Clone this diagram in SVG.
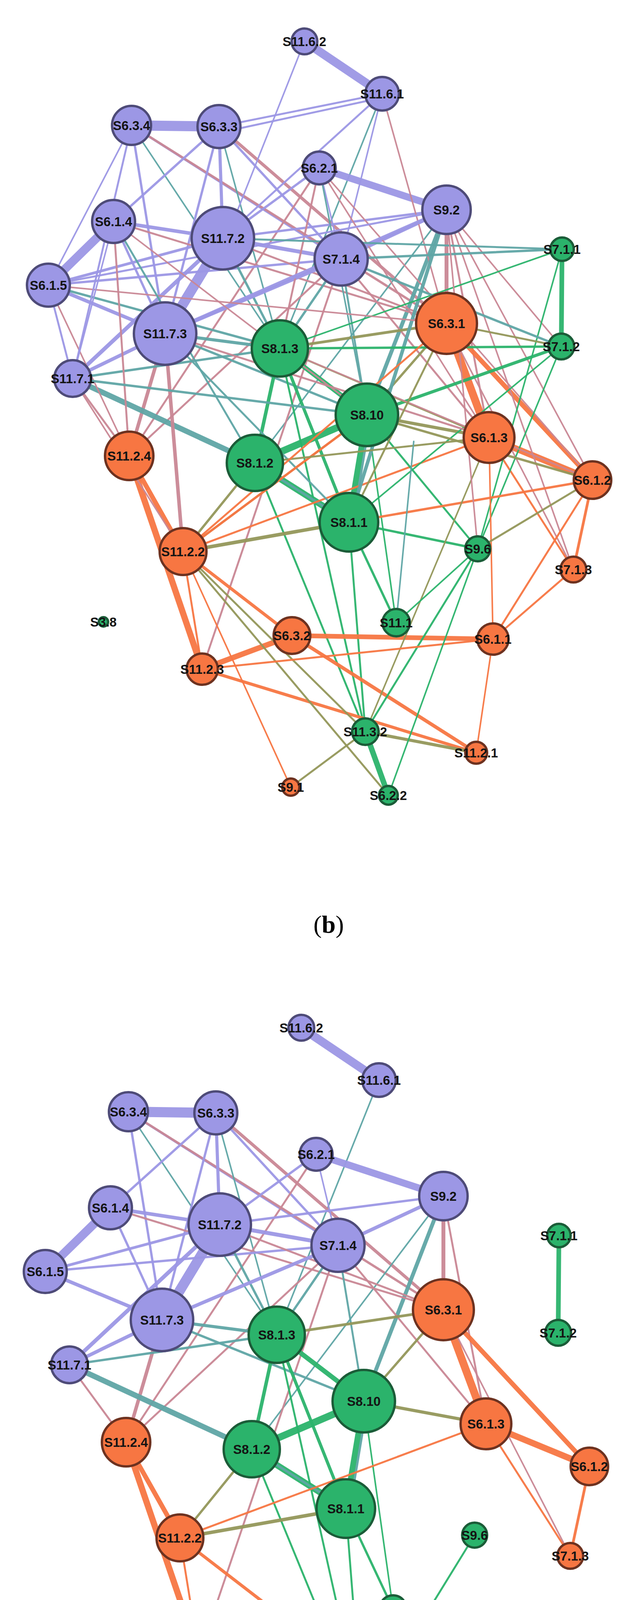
<svg xmlns="http://www.w3.org/2000/svg" xmlns:xlink="http://www.w3.org/1999/xlink" width="1591" height="4980" viewBox="0 0 1591 4980">
<style>
.p{fill:#9c97e5;stroke:#4e4b78;stroke-width:6}
.g{fill:#2bb36b;stroke:#1b5c38;stroke-width:6}
.o{fill:#f77642;stroke:#6d3220;stroke-width:6}
.t{font-family:"Liberation Sans",Arial,sans-serif;font-weight:bold;font-size:33px;fill:#141414;text-anchor:middle;dominant-baseline:central}
.cap{font-family:"Liberation Serif","Times New Roman",serif;font-size:64px;fill:#000;text-anchor:middle}
line{stroke-linecap:round;stroke-opacity:0.95}
.ep{stroke:#9c97e5}.ek{stroke:#c98795}.et{stroke:#5fa5a5}.eo{stroke:#94975a}.eg{stroke:#2bb36b}.er{stroke:#f77642}
</style>
<rect width="1591" height="4980" fill="#fff"/>
<!-- ================= PANEL B ================= -->
<g id="edges-b" stroke-width="4">
<!-- shared with c -->
<line class="ep" x1="780" y1="106" x2="979" y2="240" stroke-width="22"/>
<line class="et" x1="979" y1="240" x2="717" y2="892"/>
<line class="ep" x1="337" y1="321" x2="561" y2="324" stroke-width="26"/>
<line class="ep" x1="337" y1="321" x2="423" y2="854" stroke-width="6"/>
<line class="ep" x1="337" y1="321" x2="874" y2="663" stroke-width="6"/>
<line class="et" x1="337" y1="321" x2="717" y2="892"/>
<line class="ek" x1="337" y1="321" x2="1144" y2="828" stroke-width="6"/>
<line class="ep" x1="561" y1="324" x2="291" y2="567" stroke-width="6"/>
<line class="ep" x1="561" y1="324" x2="571" y2="610" stroke-width="8"/>
<line class="ep" x1="561" y1="324" x2="423" y2="854" stroke-width="6"/>
<line class="et" x1="561" y1="324" x2="717" y2="892"/>
<line class="ep" x1="561" y1="324" x2="874" y2="663" stroke-width="6"/>
<line class="ek" x1="561" y1="324" x2="1144" y2="828" stroke-width="8"/>
<line class="ep" x1="818" y1="430" x2="1144" y2="537" stroke-width="18"/>
<line class="ep" x1="818" y1="430" x2="571" y2="610" stroke-width="6"/>
<line class="ek" x1="818" y1="430" x2="331" y2="1167" stroke-width="5"/>
<line class="ep" x1="818" y1="430" x2="874" y2="663"/>
<line class="ep" x1="1144" y1="537" x2="571" y2="610" stroke-width="6"/>
<line class="ep" x1="1144" y1="537" x2="874" y2="663" stroke-width="9"/>
<line class="et" x1="1144" y1="537" x2="940" y2="1062" stroke-width="10"/>
<line class="ek" x1="1144" y1="537" x2="1144" y2="828" stroke-width="10"/>
<line class="ek" x1="1144" y1="537" x2="1253" y2="1120" stroke-width="5"/>
<line class="et" x1="1144" y1="537" x2="653" y2="1185"/>
<line class="ep" x1="291" y1="567" x2="124" y2="730" stroke-width="22"/>
<line class="ep" x1="291" y1="567" x2="571" y2="610" stroke-width="9"/>
<line class="ep" x1="291" y1="567" x2="423" y2="854" stroke-width="6"/>
<line class="ek" x1="291" y1="567" x2="1144" y2="828" stroke-width="5"/>
<line class="ep" x1="124" y1="730" x2="571" y2="610" stroke-width="7"/>
<line class="ep" x1="124" y1="730" x2="874" y2="663" stroke-width="6"/>
<line class="ep" x1="124" y1="730" x2="423" y2="854" stroke-width="9"/>
<line class="ep" x1="571" y1="610" x2="874" y2="663" stroke-width="10"/>
<line class="ep" x1="571" y1="610" x2="423" y2="854" stroke-width="26"/>
<line class="et" x1="571" y1="610" x2="717" y2="892" stroke-width="6"/>
<line class="ek" x1="571" y1="610" x2="1144" y2="828" stroke-width="5"/>
<line class="ep" x1="571" y1="610" x2="186" y2="969" stroke-width="10"/>
<line class="ep" x1="874" y1="663" x2="423" y2="854" stroke-width="9"/>
<line class="et" x1="874" y1="663" x2="717" y2="892" stroke-width="6"/>
<line class="et" x1="874" y1="663" x2="940" y2="1062" stroke-width="5"/>
<line class="ek" x1="874" y1="663" x2="1253" y2="1120" stroke-width="5"/>
<line class="ek" x1="874" y1="663" x2="518" y2="1713" stroke-width="5"/>
<line class="ek" x1="874" y1="663" x2="331" y2="1167" stroke-width="5"/>
<line class="et" x1="423" y1="854" x2="717" y2="892" stroke-width="8"/>
<line class="ep" x1="423" y1="854" x2="186" y2="969" stroke-width="9"/>
<line class="ek" x1="423" y1="854" x2="331" y2="1167" stroke-width="9"/>
<line class="et" x1="423" y1="854" x2="940" y2="1062" stroke-width="6"/>
<line class="et" x1="186" y1="969" x2="717" y2="892" stroke-width="6"/>
<line class="et" x1="186" y1="969" x2="653" y2="1185" stroke-width="14"/>
<line class="ek" x1="186" y1="969" x2="331" y2="1167" stroke-width="5"/>
<line class="eo" x1="717" y1="892" x2="1144" y2="828" stroke-width="7"/>
<line class="eg" x1="717" y1="892" x2="940" y2="1062" stroke-width="12"/>
<line class="eg" x1="717" y1="892" x2="894" y2="1337" stroke-width="8"/>
<line class="eg" x1="717" y1="892" x2="653" y2="1185" stroke-width="9"/>
<line class="eg" x1="717" y1="892" x2="936" y2="1873" stroke-width="5"/>
<line class="eo" x1="1144" y1="828" x2="940" y2="1062" stroke-width="6"/>
<line class="er" x1="1144" y1="828" x2="1253" y2="1120" stroke-width="20"/>
<line class="er" x1="1144" y1="828" x2="1518" y2="1229" stroke-width="12"/>
<line class="ek" x1="1144" y1="828" x2="1469" y2="1458" stroke-width="4"/>
<line class="eg" x1="1440" y1="638" x2="1438" y2="887" stroke-width="12"/>
<line class="eg" x1="940" y1="1062" x2="653" y2="1185" stroke-width="18"/>
<line class="eg" x1="940" y1="1062" x2="894" y2="1337" stroke-width="15"/>
<line class="et" x1="950" y1="1062" x2="904" y2="1337" stroke-width="6"/>
<line class="eo" x1="940" y1="1062" x2="1253" y2="1120" stroke-width="8"/>
<line class="eg" x1="940" y1="1062" x2="1015" y2="1594"/>
<line class="eg" x1="653" y1="1185" x2="894" y2="1337" stroke-width="16"/>
<line class="et" x1="653" y1="1185" x2="894" y2="1337" stroke-width="6"/>
<line class="eo" x1="653" y1="1185" x2="469" y2="1412" stroke-width="6"/>
<line class="eg" x1="653" y1="1185" x2="936" y2="1873" stroke-width="5"/>
<line class="eo" x1="894" y1="1337" x2="469" y2="1412" stroke-width="9"/>
<line class="eg" x1="894" y1="1337" x2="1015" y2="1594" stroke-width="6"/>
<line class="eg" x1="894" y1="1337" x2="936" y2="1873" stroke-width="5"/>
<line class="er" x1="469" y1="1412" x2="1253" y2="1120" stroke-width="5"/>
<line class="er" x1="1253" y1="1120" x2="1518" y2="1229" stroke-width="16"/>
<line class="er" x1="1253" y1="1120" x2="1469" y2="1458" stroke-width="5"/>
<line class="er" x1="1518" y1="1229" x2="1469" y2="1458" stroke-width="7"/>
<line class="er" x1="331" y1="1167" x2="469" y2="1412" stroke-width="12"/>
<line class="er" x1="331" y1="1167" x2="518" y2="1713" stroke-width="16"/>
<line class="er" x1="469" y1="1412" x2="748" y2="1627" stroke-width="8"/>
<line class="er" x1="469" y1="1412" x2="518" y2="1713" stroke-width="5"/>
<line class="er" x1="748" y1="1627" x2="518" y2="1713" stroke-width="14"/>
<line class="er" x1="748" y1="1627" x2="1263" y2="1636" stroke-width="12"/>
<line class="er" x1="748" y1="1627" x2="1220" y2="1927" stroke-width="9"/>
<line class="er" x1="518" y1="1713" x2="1220" y2="1927" stroke-width="8"/>
<line class="eg" x1="1224" y1="1405" x2="936" y2="1873" stroke-width="5"/>
<line class="eo" x1="936" y1="1873" x2="1220" y2="1927" stroke-width="8"/>
<line class="eg" x1="936" y1="1873" x2="995" y2="2036" stroke-width="14"/>
<!-- extra in b -->
<line class="ep" x1="780" y1="106" x2="600" y2="560"/>
<line class="ep" x1="979" y1="240" x2="561" y2="324" stroke-width="5"/>
<line class="ep" x1="979" y1="250" x2="561" y2="340" stroke-width="5"/>
<line class="ep" x1="979" y1="240" x2="571" y2="610" stroke-width="5"/>
<line class="ep" x1="979" y1="240" x2="874" y2="663"/>
<line class="ek" x1="979" y1="240" x2="1144" y2="828"/>
<line class="ek" x1="818" y1="430" x2="717" y2="892" stroke-width="5"/>
<line class="et" x1="818" y1="430" x2="940" y2="1062"/>
<line class="ek" x1="818" y1="430" x2="1253" y2="1120"/>
<line class="ek" x1="818" y1="430" x2="1518" y2="1229"/>
<line class="et" x1="1144" y1="537" x2="894" y2="1337" stroke-width="9"/>
<line class="ek" x1="1144" y1="537" x2="1438" y2="887"/>
<line class="ek" x1="1144" y1="537" x2="1469" y2="1458"/>
<line class="ek" x1="1144" y1="537" x2="1518" y2="1229"/>
<line class="ep" x1="1144" y1="537" x2="423" y2="854" stroke-width="10"/>
<line class="ep" x1="1144" y1="537" x2="124" y2="730" stroke-width="5"/>
<line class="et" x1="1440" y1="638" x2="874" y2="663" stroke-width="6"/>
<line class="et" x1="1440" y1="638" x2="571" y2="610" stroke-width="5"/>
<line class="eg" x1="1440" y1="638" x2="717" y2="892"/>
<line class="eg" x1="1440" y1="638" x2="1224" y2="1405"/>
<line class="et" x1="1438" y1="887" x2="874" y2="663" stroke-width="6"/>
<line class="eg" x1="1438" y1="887" x2="717" y2="892" stroke-width="6"/>
<line class="eg" x1="1438" y1="887" x2="940" y2="1062" stroke-width="8"/>
<line class="eg" x1="1438" y1="887" x2="894" y2="1337"/>
<line class="eg" x1="1438" y1="887" x2="1224" y2="1405"/>
<line class="eo" x1="1438" y1="887" x2="1144" y2="828" stroke-width="5"/>
<line class="et" x1="124" y1="730" x2="717" y2="892" stroke-width="6"/>
<line class="ek" x1="124" y1="730" x2="1144" y2="828"/>
<line class="ek" x1="124" y1="730" x2="331" y2="1167"/>
<line class="ep" x1="124" y1="730" x2="186" y2="969" stroke-width="5"/>
<line class="et" x1="291" y1="567" x2="653" y2="1185" stroke-width="5"/>
<line class="ek" x1="291" y1="567" x2="331" y2="1167" stroke-width="5"/>
<line class="ep" x1="291" y1="567" x2="186" y2="969"/>
<line class="ek" x1="291" y1="567" x2="940" y2="1062"/>
<line class="ep" x1="337" y1="321" x2="186" y2="969" stroke-width="5"/>
<line class="ep" x1="337" y1="321" x2="124" y2="730"/>
<line class="et" x1="423" y1="854" x2="894" y2="1337" stroke-width="5"/>
<line class="ek" x1="423" y1="854" x2="469" y2="1412" stroke-width="9"/>
<line class="ek" x1="423" y1="854" x2="1253" y2="1120" stroke-width="5"/>
<line class="et" x1="186" y1="969" x2="940" y2="1062" stroke-width="6"/>
<line class="ek" x1="186" y1="969" x2="469" y2="1412"/>
<line class="eo" x1="717" y1="892" x2="1253" y2="1120" stroke-width="5"/>
<line class="ek" x1="717" y1="892" x2="1518" y2="1229"/>
<line class="eo" x1="940" y1="1062" x2="469" y2="1412" stroke-width="5"/>
<line class="eo" x1="940" y1="1062" x2="1518" y2="1229" stroke-width="6"/>
<line class="eg" x1="940" y1="1062" x2="1224" y2="1405" stroke-width="5"/>
<line class="er" x1="940" y1="1062" x2="469" y2="1412" stroke-width="6"/>
<line class="eo" x1="653" y1="1185" x2="1253" y2="1120" stroke-width="5"/>
<line class="er" x1="894" y1="1337" x2="1518" y2="1229" stroke-width="6"/>
<line class="eg" x1="894" y1="1337" x2="1224" y2="1405" stroke-width="6"/>
<line class="eo" x1="894" y1="1337" x2="1144" y2="828" stroke-width="5"/>
<line class="eo" x1="469" y1="1412" x2="936" y2="1873" stroke-width="5"/>
<line class="eo" x1="469" y1="1412" x2="995" y2="2036" stroke-width="5"/>
<line class="er" x1="469" y1="1412" x2="745" y2="2015"/>
<line class="er" x1="469" y1="1412" x2="1144" y2="828" stroke-width="5"/>
<line class="er" x1="1253" y1="1120" x2="1263" y2="1636"/>
<line class="eo" x1="1253" y1="1120" x2="936" y2="1873" stroke-width="4"/>
<line class="eo" x1="1518" y1="1229" x2="1224" y2="1405" stroke-width="5"/>
<line class="er" x1="1518" y1="1229" x2="1263" y2="1636" stroke-width="5"/>
<line class="er" x1="1469" y1="1458" x2="1263" y2="1636" stroke-width="5"/>
<line class="er" x1="1263" y1="1636" x2="518" y2="1713" stroke-width="5"/>
<line class="er" x1="1263" y1="1636" x2="1220" y2="1927"/>
<line class="eg" x1="1224" y1="1405" x2="995" y2="2036"/>
<line class="eg" x1="1224" y1="1405" x2="1015" y2="1594"/>
<line class="eo" x1="936" y1="1873" x2="745" y2="2015" stroke-width="5"/>
<line class="et" x1="1015" y1="1594" x2="1060" y2="1130"/>
<line class="ek" x1="1144" y1="537" x2="1224" y2="1405"/>
</g>
<g id="nodes-b">
<g id="b-S11.6.2"><circle class="p" cx="780" cy="106" r="33"/><text class="t" x="780" y="106">S11.6.2</text></g>
<g id="b-S11.6.1"><circle class="p" cx="979" cy="240" r="43"/><text class="t" x="979" y="240">S11.6.1</text></g>
<g id="b-S6.3.4"><circle class="p" cx="337" cy="321" r="50"/><text class="t" x="337" y="321">S6.3.4</text></g>
<g id="b-S6.3.3"><circle class="p" cx="561" cy="324" r="55"/><text class="t" x="561" y="324">S6.3.3</text></g>
<g id="b-S6.2.1"><circle class="p" cx="818" cy="430" r="42"/><text class="t" x="818" y="430">S6.2.1</text></g>
<g id="b-S9.2"><circle class="p" cx="1144" cy="537" r="62"/><text class="t" x="1144" y="537">S9.2</text></g>
<g id="b-S6.1.4"><circle class="p" cx="291" cy="567" r="55"/><text class="t" x="291" y="567">S6.1.4</text></g>
<g id="b-S11.7.2"><circle class="p" cx="571" cy="610" r="80"/><text class="t" x="571" y="610">S11.7.2</text></g>
<g id="b-S7.1.4"><circle class="p" cx="874" cy="663" r="68"/><text class="t" x="874" y="663">S7.1.4</text></g>
<g id="b-S7.1.1"><circle class="g" cx="1440" cy="638" r="30"/><text class="t" x="1440" y="638">S7.1.1</text></g>
<g id="b-S6.1.5"><circle class="p" cx="124" cy="730" r="55"/><text class="t" x="124" y="730">S6.1.5</text></g>
<g id="b-S6.3.1"><circle class="o" cx="1144" cy="828" r="78"/><text class="t" x="1144" y="828">S6.3.1</text></g>
<g id="b-S11.7.3"><circle class="p" cx="423" cy="854" r="80"/><text class="t" x="423" y="854">S11.7.3</text></g>
<g id="b-S8.1.3"><circle class="g" cx="717" cy="892" r="72"/><text class="t" x="717" y="892">S8.1.3</text></g>
<g id="b-S7.1.2"><circle class="g" cx="1438" cy="887" r="33"/><text class="t" x="1438" y="887">S7.1.2</text></g>
<g id="b-S11.7.1"><circle class="p" cx="186" cy="969" r="47"/><text class="t" x="186" y="969">S11.7.1</text></g>
<g id="b-S8.10"><circle class="g" cx="940" cy="1062" r="80"/><text class="t" x="940" y="1062">S8.10</text></g>
<g id="b-S6.1.3"><circle class="o" cx="1253" cy="1120" r="65"/><text class="t" x="1253" y="1120">S6.1.3</text></g>
<g id="b-S11.2.4"><circle class="o" cx="331" cy="1167" r="62"/><text class="t" x="331" y="1167">S11.2.4</text></g>
<g id="b-S8.1.2"><circle class="g" cx="653" cy="1185" r="72"/><text class="t" x="653" y="1185">S8.1.2</text></g>
<g id="b-S6.1.2"><circle class="o" cx="1518" cy="1229" r="48"/><text class="t" x="1518" y="1229">S6.1.2</text></g>
<g id="b-S8.1.1"><circle class="g" cx="894" cy="1337" r="75"/><text class="t" x="894" y="1337">S8.1.1</text></g>
<g id="b-S11.2.2"><circle class="o" cx="469" cy="1412" r="60"/><text class="t" x="469" y="1412">S11.2.2</text></g>
<g id="b-S9.6"><circle class="g" cx="1224" cy="1405" r="32"/><text class="t" x="1224" y="1405">S9.6</text></g>
<g id="b-S7.1.3"><circle class="o" cx="1469" cy="1458" r="33"/><text class="t" x="1469" y="1458">S7.1.3</text></g>
<g id="b-S3.8"><circle class="g" cx="265" cy="1592" r="12" stroke-width="3"/><text class="t" x="265" y="1592">S3.8</text></g>
<g id="b-S11.1"><circle class="g" cx="1015" cy="1594" r="35"/><text class="t" x="1015" y="1594">S11.1</text></g>
<g id="b-S6.3.2"><circle class="o" cx="748" cy="1627" r="47"/><text class="t" x="748" y="1627">S6.3.2</text></g>
<g id="b-S6.1.1"><circle class="o" cx="1263" cy="1636" r="40"/><text class="t" x="1263" y="1636">S6.1.1</text></g>
<g id="b-S11.2.3"><circle class="o" cx="518" cy="1713" r="40"/><text class="t" x="518" y="1713">S11.2.3</text></g>
<g id="b-S11.3.2"><circle class="g" cx="936" cy="1873" r="34"/><text class="t" x="936" y="1873">S11.3.2</text></g>
<g id="b-S11.2.1"><circle class="o" cx="1220" cy="1927" r="28"/><text class="t" x="1220" y="1927">S11.2.1</text></g>
<g id="b-S9.1"><circle class="o" cx="745" cy="2015" r="22" stroke-width="4"/><text class="t" x="745" y="2015">S9.1</text></g>
<g id="b-S6.2.2"><circle class="g" cx="995" cy="2036" r="24" stroke-width="4"/><text class="t" x="995" y="2036">S6.2.2</text></g>
</g>
<text id="cap-b" class="cap" x="842" y="2388">(<tspan font-weight="bold">b</tspan>)</text>
<!-- ================= PANEL C ================= -->
<g transform="translate(-8,2525)">
<g id="edges-c" stroke-width="4">
<line class="ep" x1="780" y1="106" x2="979" y2="240" stroke-width="22"/>
<line class="et" x1="979" y1="240" x2="717" y2="892"/>
<line class="ep" x1="337" y1="321" x2="561" y2="324" stroke-width="26"/>
<line class="ep" x1="337" y1="321" x2="423" y2="854" stroke-width="6"/>
<line class="ep" x1="337" y1="321" x2="874" y2="663" stroke-width="6"/>
<line class="et" x1="337" y1="321" x2="717" y2="892"/>
<line class="ek" x1="337" y1="321" x2="1144" y2="828" stroke-width="6"/>
<line class="ep" x1="561" y1="324" x2="291" y2="567" stroke-width="6"/>
<line class="ep" x1="561" y1="324" x2="571" y2="610" stroke-width="8"/>
<line class="ep" x1="561" y1="324" x2="423" y2="854" stroke-width="6"/>
<line class="et" x1="561" y1="324" x2="717" y2="892"/>
<line class="ep" x1="561" y1="324" x2="874" y2="663" stroke-width="6"/>
<line class="ek" x1="561" y1="324" x2="1144" y2="828" stroke-width="8"/>
<line class="ep" x1="818" y1="430" x2="1144" y2="537" stroke-width="18"/>
<line class="ep" x1="818" y1="430" x2="571" y2="610" stroke-width="6"/>
<line class="ek" x1="818" y1="430" x2="331" y2="1167" stroke-width="5"/>
<line class="ep" x1="818" y1="430" x2="874" y2="663"/>
<line class="ep" x1="1144" y1="537" x2="571" y2="610" stroke-width="6"/>
<line class="ep" x1="1144" y1="537" x2="874" y2="663" stroke-width="9"/>
<line class="et" x1="1144" y1="537" x2="940" y2="1062" stroke-width="10"/>
<line class="ek" x1="1144" y1="537" x2="1144" y2="828" stroke-width="10"/>
<line class="ek" x1="1144" y1="537" x2="1253" y2="1120" stroke-width="5"/>
<line class="et" x1="1144" y1="537" x2="653" y2="1185"/>
<line class="ep" x1="291" y1="567" x2="124" y2="730" stroke-width="22"/>
<line class="ep" x1="291" y1="567" x2="571" y2="610" stroke-width="9"/>
<line class="ep" x1="291" y1="567" x2="423" y2="854" stroke-width="6"/>
<line class="ek" x1="291" y1="567" x2="1144" y2="828" stroke-width="5"/>
<line class="ep" x1="124" y1="730" x2="571" y2="610" stroke-width="7"/>
<line class="ep" x1="124" y1="730" x2="874" y2="663" stroke-width="6"/>
<line class="ep" x1="124" y1="730" x2="423" y2="854" stroke-width="9"/>
<line class="ep" x1="571" y1="610" x2="874" y2="663" stroke-width="10"/>
<line class="ep" x1="571" y1="610" x2="423" y2="854" stroke-width="26"/>
<line class="et" x1="571" y1="610" x2="717" y2="892" stroke-width="6"/>
<line class="ek" x1="571" y1="610" x2="1144" y2="828" stroke-width="5"/>
<line class="ep" x1="571" y1="610" x2="186" y2="969" stroke-width="10"/>
<line class="ep" x1="874" y1="663" x2="423" y2="854" stroke-width="9"/>
<line class="et" x1="874" y1="663" x2="717" y2="892" stroke-width="6"/>
<line class="et" x1="874" y1="663" x2="940" y2="1062" stroke-width="5"/>
<line class="ek" x1="874" y1="663" x2="1253" y2="1120" stroke-width="5"/>
<line class="ek" x1="874" y1="663" x2="518" y2="1713" stroke-width="5"/>
<line class="ek" x1="874" y1="663" x2="331" y2="1167" stroke-width="5"/>
<line class="et" x1="423" y1="854" x2="717" y2="892" stroke-width="8"/>
<line class="ep" x1="423" y1="854" x2="186" y2="969" stroke-width="9"/>
<line class="ek" x1="423" y1="854" x2="331" y2="1167" stroke-width="9"/>
<line class="et" x1="423" y1="854" x2="940" y2="1062" stroke-width="6"/>
<line class="et" x1="186" y1="969" x2="717" y2="892" stroke-width="6"/>
<line class="et" x1="186" y1="969" x2="653" y2="1185" stroke-width="14"/>
<line class="ek" x1="186" y1="969" x2="331" y2="1167" stroke-width="5"/>
<line class="eo" x1="717" y1="892" x2="1144" y2="828" stroke-width="7"/>
<line class="eg" x1="717" y1="892" x2="940" y2="1062" stroke-width="12"/>
<line class="eg" x1="717" y1="892" x2="894" y2="1337" stroke-width="8"/>
<line class="eg" x1="717" y1="892" x2="653" y2="1185" stroke-width="9"/>
<line class="eg" x1="717" y1="892" x2="936" y2="1873" stroke-width="5"/>
<line class="eo" x1="1144" y1="828" x2="940" y2="1062" stroke-width="6"/>
<line class="er" x1="1144" y1="828" x2="1253" y2="1120" stroke-width="20"/>
<line class="er" x1="1144" y1="828" x2="1518" y2="1229" stroke-width="12"/>
<line class="ek" x1="1144" y1="828" x2="1469" y2="1458" stroke-width="4"/>
<line class="eg" x1="1440" y1="638" x2="1438" y2="887" stroke-width="12"/>
<line class="eg" x1="940" y1="1062" x2="653" y2="1185" stroke-width="18"/>
<line class="eg" x1="940" y1="1062" x2="894" y2="1337" stroke-width="15"/>
<line class="et" x1="950" y1="1062" x2="904" y2="1337" stroke-width="6"/>
<line class="eo" x1="940" y1="1062" x2="1253" y2="1120" stroke-width="8"/>
<line class="eg" x1="940" y1="1062" x2="1015" y2="1594"/>
<line class="eg" x1="653" y1="1185" x2="894" y2="1337" stroke-width="16"/>
<line class="et" x1="653" y1="1185" x2="894" y2="1337" stroke-width="6"/>
<line class="eo" x1="653" y1="1185" x2="469" y2="1412" stroke-width="6"/>
<line class="eg" x1="653" y1="1185" x2="936" y2="1873" stroke-width="5"/>
<line class="eo" x1="894" y1="1337" x2="469" y2="1412" stroke-width="9"/>
<line class="eg" x1="894" y1="1337" x2="1015" y2="1594" stroke-width="6"/>
<line class="eg" x1="894" y1="1337" x2="936" y2="1873" stroke-width="5"/>
<line class="er" x1="469" y1="1412" x2="1253" y2="1120" stroke-width="5"/>
<line class="er" x1="1253" y1="1120" x2="1518" y2="1229" stroke-width="16"/>
<line class="er" x1="1253" y1="1120" x2="1469" y2="1458" stroke-width="5"/>
<line class="er" x1="1518" y1="1229" x2="1469" y2="1458" stroke-width="7"/>
<line class="er" x1="331" y1="1167" x2="469" y2="1412" stroke-width="12"/>
<line class="er" x1="331" y1="1167" x2="518" y2="1713" stroke-width="16"/>
<line class="er" x1="469" y1="1412" x2="748" y2="1627" stroke-width="8"/>
<line class="er" x1="469" y1="1412" x2="518" y2="1713" stroke-width="5"/>
<line class="er" x1="748" y1="1627" x2="518" y2="1713" stroke-width="14"/>
<line class="er" x1="748" y1="1627" x2="1263" y2="1636" stroke-width="12"/>
<line class="er" x1="748" y1="1627" x2="1220" y2="1927" stroke-width="9"/>
<line class="er" x1="518" y1="1713" x2="1220" y2="1927" stroke-width="8"/>
<line class="eg" x1="1224" y1="1405" x2="936" y2="1873" stroke-width="5"/>
<line class="eo" x1="936" y1="1873" x2="1220" y2="1927" stroke-width="8"/>
<line class="eg" x1="936" y1="1873" x2="995" y2="2036" stroke-width="14"/>
</g>
<g id="nodes-c">
<g id="c-S11.6.2"><circle class="p" cx="780" cy="106" r="33"/><text class="t" x="780" y="106">S11.6.2</text></g>
<g id="c-S11.6.1"><circle class="p" cx="979" cy="240" r="43"/><text class="t" x="979" y="240">S11.6.1</text></g>
<g id="c-S6.3.4"><circle class="p" cx="337" cy="321" r="50"/><text class="t" x="337" y="321">S6.3.4</text></g>
<g id="c-S6.3.3"><circle class="p" cx="561" cy="324" r="55"/><text class="t" x="561" y="324">S6.3.3</text></g>
<g id="c-S6.2.1"><circle class="p" cx="818" cy="430" r="42"/><text class="t" x="818" y="430">S6.2.1</text></g>
<g id="c-S9.2"><circle class="p" cx="1144" cy="537" r="62"/><text class="t" x="1144" y="537">S9.2</text></g>
<g id="c-S6.1.4"><circle class="p" cx="291" cy="567" r="55"/><text class="t" x="291" y="567">S6.1.4</text></g>
<g id="c-S11.7.2"><circle class="p" cx="571" cy="610" r="80"/><text class="t" x="571" y="610">S11.7.2</text></g>
<g id="c-S7.1.4"><circle class="p" cx="874" cy="663" r="68"/><text class="t" x="874" y="663">S7.1.4</text></g>
<g id="c-S7.1.1"><circle class="g" cx="1440" cy="638" r="30"/><text class="t" x="1440" y="638">S7.1.1</text></g>
<g id="c-S6.1.5"><circle class="p" cx="124" cy="730" r="55"/><text class="t" x="124" y="730">S6.1.5</text></g>
<g id="c-S6.3.1"><circle class="o" cx="1144" cy="828" r="78"/><text class="t" x="1144" y="828">S6.3.1</text></g>
<g id="c-S11.7.3"><circle class="p" cx="423" cy="854" r="80"/><text class="t" x="423" y="854">S11.7.3</text></g>
<g id="c-S8.1.3"><circle class="g" cx="717" cy="892" r="72"/><text class="t" x="717" y="892">S8.1.3</text></g>
<g id="c-S7.1.2"><circle class="g" cx="1438" cy="887" r="33"/><text class="t" x="1438" y="887">S7.1.2</text></g>
<g id="c-S11.7.1"><circle class="p" cx="186" cy="969" r="47"/><text class="t" x="186" y="969">S11.7.1</text></g>
<g id="c-S8.10"><circle class="g" cx="940" cy="1062" r="80"/><text class="t" x="940" y="1062">S8.10</text></g>
<g id="c-S6.1.3"><circle class="o" cx="1253" cy="1120" r="65"/><text class="t" x="1253" y="1120">S6.1.3</text></g>
<g id="c-S11.2.4"><circle class="o" cx="331" cy="1167" r="62"/><text class="t" x="331" y="1167">S11.2.4</text></g>
<g id="c-S8.1.2"><circle class="g" cx="653" cy="1185" r="72"/><text class="t" x="653" y="1185">S8.1.2</text></g>
<g id="c-S6.1.2"><circle class="o" cx="1518" cy="1229" r="48"/><text class="t" x="1518" y="1229">S6.1.2</text></g>
<g id="c-S8.1.1"><circle class="g" cx="894" cy="1337" r="75"/><text class="t" x="894" y="1337">S8.1.1</text></g>
<g id="c-S11.2.2"><circle class="o" cx="469" cy="1412" r="60"/><text class="t" x="469" y="1412">S11.2.2</text></g>
<g id="c-S9.6"><circle class="g" cx="1224" cy="1405" r="32"/><text class="t" x="1224" y="1405">S9.6</text></g>
<g id="c-S7.1.3"><circle class="o" cx="1469" cy="1458" r="33"/><text class="t" x="1469" y="1458">S7.1.3</text></g>
<g id="c-S3.8"><circle class="g" cx="265" cy="1592" r="12" stroke-width="3"/><text class="t" x="265" y="1592">S3.8</text></g>
<g id="c-S11.1"><circle class="g" cx="1015" cy="1594" r="35"/><text class="t" x="1015" y="1594">S11.1</text></g>
<g id="c-S6.3.2"><circle class="o" cx="748" cy="1627" r="47"/><text class="t" x="748" y="1627">S6.3.2</text></g>
<g id="c-S6.1.1"><circle class="o" cx="1263" cy="1636" r="40"/><text class="t" x="1263" y="1636">S6.1.1</text></g>
<g id="c-S11.2.3"><circle class="o" cx="518" cy="1713" r="40"/><text class="t" x="518" y="1713">S11.2.3</text></g>
<g id="c-S11.3.2"><circle class="g" cx="936" cy="1873" r="34"/><text class="t" x="936" y="1873">S11.3.2</text></g>
<g id="c-S11.2.1"><circle class="o" cx="1220" cy="1927" r="28"/><text class="t" x="1220" y="1927">S11.2.1</text></g>
<g id="c-S9.1"><circle class="o" cx="745" cy="2015" r="22" stroke-width="4"/><text class="t" x="745" y="2015">S9.1</text></g>
<g id="c-S6.2.2"><circle class="g" cx="995" cy="2036" r="24" stroke-width="4"/><text class="t" x="995" y="2036">S6.2.2</text></g>
</g>
</g>
<text id="cap-c" class="cap" x="843" y="4917">(<tspan font-weight="bold">c</tspan>)</text>
</svg>
